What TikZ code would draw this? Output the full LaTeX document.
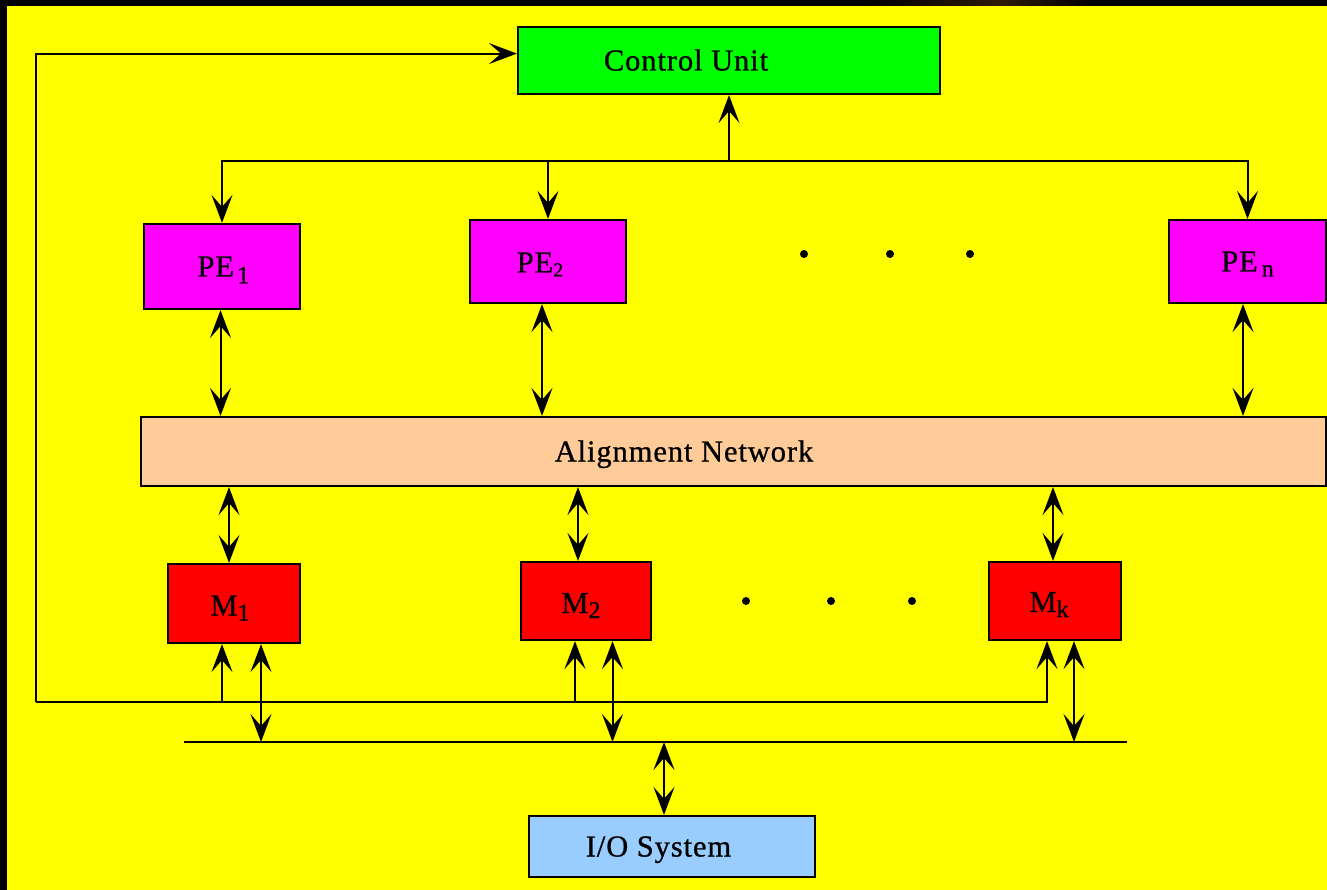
\documentclass[tikz,border=0pt]{standalone}
\usepackage{fontspec}
\setmainfont{Liberation Serif}[FakeBold=0.8]
\usetikzlibrary{arrows.meta,calc}
\definecolor{bgyellow}{HTML}{FFFF00}
\definecolor{cugreen}{HTML}{00FF00}
\definecolor{pemag}{HTML}{FF00FF}
\definecolor{anpeach}{HTML}{FFCC99}
\definecolor{mred}{HTML}{FF0000}
\definecolor{ioblue}{HTML}{99CCFF}
\definecolor{glow}{HTML}{2E1C08}
% lowered index: #1 drop, #2 size, #3 text
\newcommand\lowsub[3]{\raisebox{-#1pt}{\fontsize{#2}{#2}\selectfont #3}}
\begin{document}
\begin{tikzpicture}[x=1pt,y=-1pt,
  >={Stealth[length=28pt,width=21pt,inset=12pt]},
  line width=2pt,
  blk/.style={draw=black, line width=2.2pt, inner sep=0pt},
  lbl/.style={inner sep=0pt, text height=20pt, text depth=0pt,
    font=\fontsize{30.5}{31}\selectfont\addfontfeatures{LetterSpace=3}},
  dotmark/.style={fill=black}]
\useasboundingbox (0,0) rectangle (1327,890);
% frame and background
\fill[black] (0,0) rectangle (1327,890);
\fill[bgyellow] (7,6) rectangle (1327,890);
\shade[left color=black, right color=glow] (870,0) rectangle (1000,5.5);
\shade[left color=glow, right color=black] (1000,0) rectangle (1095,5.5);

% blocks
\node[blk, fill=cugreen, minimum width=422pt, minimum height=67pt] (cu) at (729,60.5) {};
\node[blk, fill=pemag, minimum width=156pt, minimum height=85pt] (pe1) at (222,266.5) {};
\node[blk, fill=pemag, minimum width=156pt, minimum height=83pt] (pe2) at (548,261.5) {};
\node[blk, fill=pemag, minimum width=157pt, minimum height=83pt] (pen) at (1247.5,261.5) {};
\node[blk, fill=anpeach, minimum width=1185pt, minimum height=69pt] (an) at (733.5,451.5) {};
\node[blk, fill=mred, minimum width=132pt, minimum height=79pt] (m1) at (234,603.5) {};
\node[blk, fill=mred, minimum width=130pt, minimum height=78pt] (m2) at (586,601) {};
\node[blk, fill=mred, minimum width=132pt, minimum height=78pt] (mk) at (1055,601) {};
\node[blk, fill=ioblue, minimum width=286pt, minimum height=61pt] (io) at (672,846.5) {};

% block captions
\node[lbl] (cut) at ([xshift=-43pt]cu.center) {Control Unit};
\node[lbl] (pe1t) at ([xshift=1.5pt]pe1.center) {PE\hspace{3pt}\lowsub{7}{25}{1}};
\node[lbl] (pe2t) at ([xshift=-8pt,yshift=-1pt]pe2.center) {PE\lowsub{4}{20}{2}};
\node[lbl] (pent) at (pen.center) {PE\hspace{4pt}\lowsub{5}{24}{n}};
\node[lbl] (ant) at ([xshift=-49.5pt]an.center) {Alignment Network};
\node[lbl] (m1t0) at ([xshift=-4pt,yshift=-2pt]m1.center) {M\lowsub{5}{24}{1}};
\node[lbl] (m2t0) at ([xshift=-5pt,yshift=-2pt]m2.center) {M\lowsub{5}{24}{2}};
\node[lbl] (mkt0) at ([xshift=-6pt,yshift=-1pt]mk.center) {M\lowsub{5}{24}{k}};
\node[lbl] (iotx) at ([xshift=-13.5pt]io.center) {I/O System};

% ellipsis dots
\foreach \px in {804,890,970} \fill[dotmark] (\px,254) circle (4pt);
\foreach \px in {746,831,912} \fill[dotmark] (\px,601) circle (4pt);

% control bus
\coordinate (busc) at (729,161);
\draw[->] (busc) -- (cu.south);
\draw[->] (busc) -| (pe1.north);
\draw[->] (busc) -| (pen.north);
\draw[->] (pe2.north |- busc) -- (pe2.north);

% PEs to alignment network
\coordinate (p1b) at ([xshift=-1.5pt]pe1.south);
\coordinate (p2b) at ([xshift=-6pt]pe2.south);
\coordinate (pnb) at ([xshift=-4.5pt]pen.south);
\draw[<->] (p1b) -- (p1b |- an.north);
\draw[<->] (p2b) -- (p2b |- an.north);
\draw[<->] (pnb) -- (pnb |- an.north);

% alignment network to memories
\coordinate (m1t) at ([xshift=-5pt]m1.north);
\coordinate (m2t) at ([xshift=-8pt]m2.north);
\coordinate (mkt) at ([xshift=-2pt]mk.north);
\draw[<->] (m1t |- an.south) -- (m1t);
\draw[<->] (m2t |- an.south) -- (m2t);
\draw[<->] (mkt |- an.south) -- (mkt);

% feedback loop to control unit and memories
\coordinate (loopL) at (36,702);
\coordinate (cuin) at ($(cu.north west)!0.4!(cu.south west)$);
\coordinate (m1u) at ([xshift=-12pt]m1.south);
\coordinate (m2u) at ([xshift=-11pt]m2.south);
\coordinate (mku) at ([xshift=-8pt]mk.south);
\draw[->] (loopL) |- (cuin);
\draw[->] (loopL) -| (mku);
\draw[->] (m1u |- loopL) -- (m1u);
\draw[->] (m2u |- loopL) -- (m2u);

% I/O bus
\coordinate (lbL) at (184,742);
\coordinate (lbR) at (1127,742);
\draw (lbL) -- (lbR);
\coordinate (m1d) at ([xshift=27pt]m1.south);
\coordinate (m2d) at ([xshift=26.5pt]m2.south);
\coordinate (mkd) at ([xshift=19pt]mk.south);
\draw[<->] (m1d) -- (m1d |- lbL);
\draw[<->] (m2d) -- (m2d |- lbL);
\draw[<->] (mkd) -- (mkd |- lbL);
\coordinate (iot) at ([xshift=-8pt]io.north);
\draw[<->] (iot |- lbL) -- (iot);
\end{tikzpicture}
\end{document}
